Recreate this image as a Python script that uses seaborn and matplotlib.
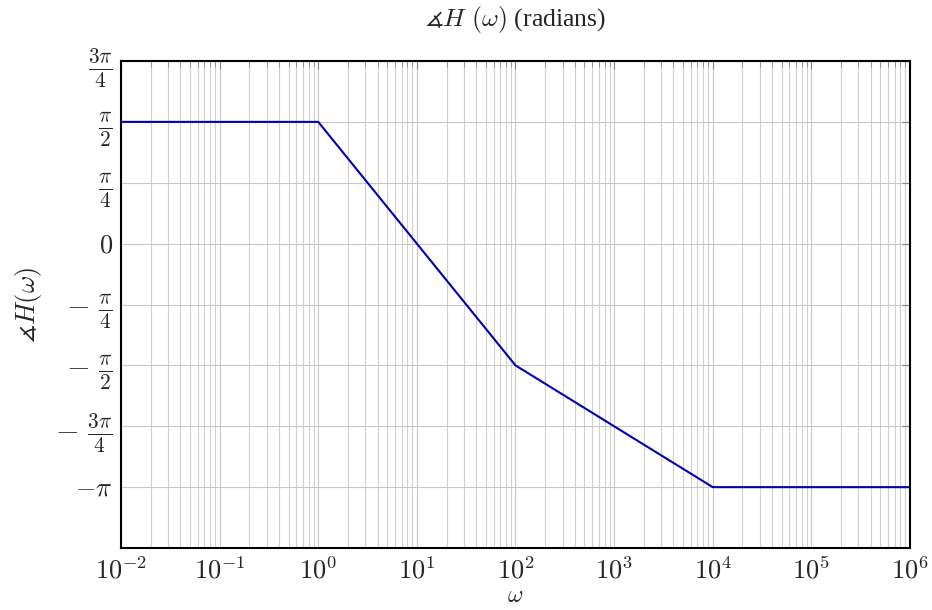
import numpy as np
import pandas as pd
import matplotlib
matplotlib.use("Agg")
import matplotlib.pyplot as plt
import seaborn as sns
from matplotlib.ticker import LogLocator, FixedLocator

# Asymptotic Bode phase plot
omega = [1e-2, 1e0, 1e2, 1e4, 1e6]
phase = [np.pi / 2, np.pi / 2, -np.pi / 2, -np.pi, -np.pi]

y_ticks = [3 * np.pi / 4, np.pi / 2, np.pi / 4, 0, -np.pi / 4, -np.pi / 2, -3 * np.pi / 4, -np.pi]
y_labels = [r"$\frac{3\pi}{4}$", r"$\frac{\pi}{2}$", r"$\frac{\pi}{4}$", r"$0$",
            r"$-\ \frac{\pi}{4}$", r"$-\ \frac{\pi}{2}$", r"$-\ \frac{3\pi}{4}$", r"$-\pi$"]
x_ticks = [1e-2, 1e-1, 1e0, 1e1, 1e2, 1e3, 1e4, 1e5, 1e6]
x_labels = [r"$10^{-2}$", r"$10^{-1}$", r"$10^{0}$", r"$10^{1}$", r"$10^{2}$",
            r"$10^{3}$", r"$10^{4}$", r"$10^{5}$", r"$10^{6}$"]

df = pd.DataFrame({"omega": omega, "phase": phase})

sns.set_style("white")
plt.rcParams["font.family"] = ["Liberation Serif", "DejaVu Serif"]
plt.rcParams["mathtext.fontset"] = "cm"

fig = plt.figure(figsize=(9.32, 6.10), dpi=100)
ax = fig.add_axes([0.1298, 0.1016, 0.9764 - 0.1298, 0.9 - 0.1016])

sns.lineplot(data=df, x="omega", y="phase", ax=ax, color="#0000B0", linewidth=1.5)

ax.set_xscale("log")
ax.set_xlim(1e-2, 1e6)
ax.set_ylim(-5 * np.pi / 4, 3 * np.pi / 4)

ax.xaxis.set_major_locator(FixedLocator(x_ticks))
ax.set_xticklabels(x_labels)
ax.xaxis.set_minor_locator(LogLocator(base=10, subs=np.arange(2, 10), numticks=100))
ax.yaxis.set_major_locator(FixedLocator(y_ticks))
ax.set_yticklabels(y_labels)

ax.grid(True, which="major", color="#c8c8c8", linewidth=0.8)
ax.grid(True, which="minor", axis="x", color="#d0d0d0", linewidth=0.8)
ax.tick_params(which="both", direction="in", top=True, right=True, labelsize=19, color="#888888")
ax.tick_params(which="major", length=6, pad=6)
ax.tick_params(which="minor", length=4)

# fractions look bigger in the original
for lab in ax.get_yticklabels():
    if "frac" in lab.get_text():
        lab.set_fontsize(22)

for s in ax.spines.values():
    s.set_color("black")
    s.set_linewidth(1.5)

ax.set_title(r"$\measuredangle H\ (\omega)$ (radians)", fontsize=18.5, pad=25)
ax.set_xlabel(r"$\omega$", fontsize=17, labelpad=2)
ax.set_ylabel(r"$\measuredangle H(\omega)$", fontsize=19, labelpad=8)

fig.savefig("out.png", dpi=100)
